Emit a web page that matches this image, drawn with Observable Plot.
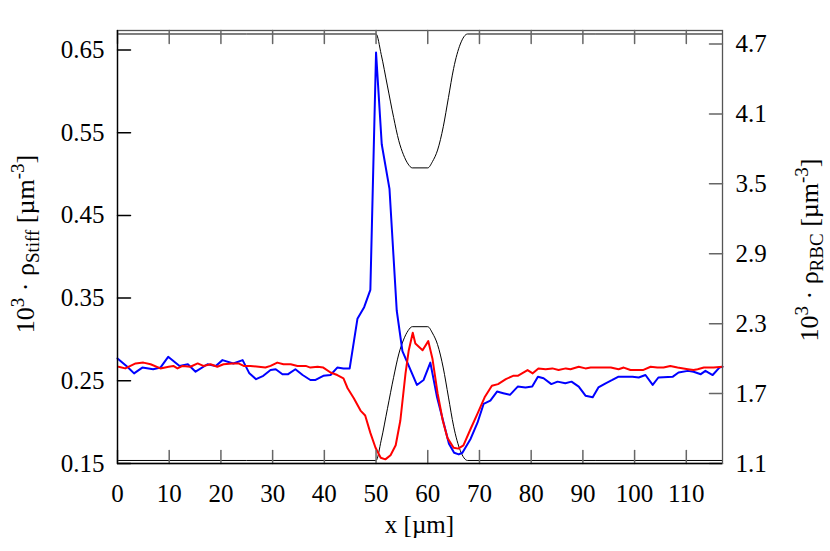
<!DOCTYPE html>
<html><head><meta charset="utf-8">
<script src="https://cdn.jsdelivr.net/npm/d3@7"></script>
<script src="https://cdn.jsdelivr.net/npm/@observablehq/plot@0.6"></script>
<style>
body{margin:0;background:#fff}
#chart svg{font-family:"Liberation Serif","Times New Roman",serif}
</style>
</head><body><div id="chart"></div>
<script>
// ---- data (left-axis units for blue/red; right-axis units for black wall curves) ----
const blueX = [0,1.9,3.2,4.8,6.9,8.3,9.8,12.0,13.6,15.1,17.4,19.0,20.3,22.4,24.2,25.5,26.8,28.2,29.6,30.6,31.9,33.0,34.4,35.8,37.3,38.3,39.8,41.2,42.5,43.7,44.9,46.4,47.7,48.9,50.0,51.1,52.6,54.0,55.1,56.0,57.9,59.2,60.5,61.8,64.1,65.1,66.0,66.7,68.3,69.6,70.8,72.1,73.4,74.6,75.9,77.4,78.9,80.2,81.3,82.4,83.9,85.1,86.6,87.8,89.2,90.5,91.9,93.0,94.4,95.7,96.9,99.6,100.8,102.1,103.5,104.6,107.4,108.5,110.3,111.4,112.8,113.7,115.1,116.4,117.0];
const blueY = [0.277,0.267,0.259,0.266,0.264,0.266,0.279,0.268,0.270,0.261,0.270,0.268,0.275,0.271,0.275,0.259,0.252,0.256,0.263,0.264,0.258,0.258,0.264,0.257,0.251,0.251,0.256,0.257,0.266,0.265,0.265,0.325,0.339,0.360,0.647,0.536,0.482,0.335,0.286,0.273,0.245,0.251,0.272,0.230,0.174,0.163,0.161,0.163,0.180,0.199,0.222,0.226,0.237,0.235,0.233,0.243,0.242,0.243,0.255,0.253,0.246,0.249,0.247,0.249,0.243,0.232,0.230,0.242,0.247,0.251,0.255,0.255,0.254,0.257,0.245,0.254,0.255,0.260,0.262,0.261,0.258,0.262,0.257,0.266,0.267];

const redX = [0.2,1.5,3.5,5.0,6.4,8.3,9.9,10.8,11.6,12.6,14.1,15.5,16.6,18.0,19.3,20.5,22.2,23.4,24.4,25.7,27.3,28.6,29.6,30.9,32.1,33.5,34.8,36.4,37.3,38.7,39.8,41.2,42.5,43.7,44.5,45.7,47.0,47.9,48.9,49.9,50.9,51.8,52.8,53.8,54.7,55.7,56.3,57.1,57.6,59.0,60.1,60.9,61.9,62.9,63.8,65.0,65.9,66.9,68.3,69.6,71.0,72.4,73.6,75.1,76.5,77.4,79.3,80.3,81.4,82.8,84.1,85.3,86.7,87.6,89.2,90.5,91.5,92.8,94.4,95.4,96.9,97.9,99.2,101.6,103.1,104.4,105.6,106.9,108.3,110.3,111.4,112.2,113.4,115.3,117.0];
const redY = [0.267,0.265,0.271,0.272,0.270,0.265,0.267,0.268,0.265,0.268,0.267,0.271,0.268,0.270,0.267,0.270,0.271,0.271,0.268,0.268,0.267,0.266,0.268,0.272,0.270,0.270,0.268,0.268,0.266,0.267,0.266,0.260,0.257,0.253,0.241,0.229,0.214,0.208,0.187,0.169,0.157,0.155,0.160,0.172,0.202,0.259,0.286,0.308,0.295,0.287,0.298,0.277,0.235,0.202,0.181,0.169,0.168,0.172,0.192,0.210,0.230,0.244,0.246,0.252,0.256,0.256,0.263,0.259,0.265,0.264,0.265,0.263,0.265,0.264,0.267,0.265,0.266,0.266,0.266,0.266,0.264,0.266,0.263,0.263,0.267,0.266,0.266,0.268,0.266,0.264,0.263,0.264,0.266,0.266,0.267];

const wallX      = [0,50.0,51.0,52.2,53.4,54.4,55.3,56.2,57.0,60.0,60.9,61.9,63.0,64.0,65.0,66.3,67.7,117];
const wallTop    = [4.786,4.786,4.61,4.34,4.07,3.87,3.75,3.67,3.637,3.637,3.69,3.79,3.99,4.24,4.49,4.70,4.786,4.786];
const wallBottom = [1.126,1.126,1.30,1.57,1.84,2.04,2.16,2.24,2.274,2.274,2.22,2.12,1.92,1.67,1.42,1.21,1.126,1.126];

const xTicks = [0,10,20,30,40,50,60,70,80,90,100,110];
const leftTicks = [0.15,0.25,0.35,0.45,0.55,0.65];
const rightTicks = [1.1,1.7,2.3,2.9,3.5,4.1,4.7];

const xDomain = [0, 117];
const leftDomain = [0.15, 0.6736];
const rightDomain = [1.1, 4.816];

// ---- build ----
const toLeft = v => leftDomain[0] + (v - rightDomain[0]) * (leftDomain[1] - leftDomain[0]) / (rightDomain[1] - rightDomain[0]);
const blue = blueX.map((x, i) => ({x, y: blueY[i]}));
const red = redX.map((x, i) => ({x, y: redY[i]}));
const wall = wallX.map((x, i) => ({x, top: toLeft(wallTop[i]), bottom: toLeft(wallBottom[i])}));
const tickShape = {draw(context, l) { context.moveTo(0, 0); context.lineTo(0, -l); }};
const rightLabel = d => { const t = rightTicks.find(t => Math.abs(toLeft(t) - d) < 1e-9); return t.toFixed(1); };

const chart = Plot.plot({
  width: 830, height: 551,
  marginLeft: 117, marginRight: 108, marginTop: 30, marginBottom: 88,
  style: {fontFamily: '"Liberation Serif","Times New Roman",serif', fontSize: "25px", background: "white", color: "black"},
  x: {domain: xDomain},
  y: {domain: leftDomain},
  marks: [
    Plot.line(wall, {x: "x", y: "top", stroke: "black", strokeWidth: 1, curve: "monotone-x"}),
    Plot.line(wall, {x: "x", y: "bottom", stroke: "black", strokeWidth: 1, curve: "monotone-x"}),
    Plot.line(blue, {x: "x", y: "y", stroke: "#0000ff", strokeWidth: 2}),
    Plot.line(red, {x: "x", y: "y", stroke: "#ff0000", strokeWidth: 2}),
    Plot.frame({stroke: "#555", strokeWidth: 1.3}),
    Plot.vector(leftTicks, {y: d => d, frameAnchor: "left", rotate: 90, length: 13, anchor: "start", shape: tickShape, stroke: "black"}),
    Plot.vector(rightTicks.map(toLeft), {y: d => d, frameAnchor: "right", rotate: 270, length: 13, anchor: "start", shape: tickShape, stroke: "#666"}),
    Plot.vector(xTicks, {x: d => d, frameAnchor: "bottom", rotate: 0, length: 13, anchor: "start", shape: tickShape, stroke: "#666"}),
    Plot.vector(xTicks, {x: d => d, frameAnchor: "top", rotate: 180, length: 13, anchor: "start", shape: tickShape, stroke: "#666"}),
    Plot.axisX({ticks: xTicks, tickSize: 0, tickPadding: 21, tickFormat: d => String(d), label: null}),
    Plot.axisY({anchor: "left", ticks: leftTicks, tickSize: 0, tickPadding: 13, tickFormat: d => d.toFixed(2), label: null}),
    Plot.axisY({anchor: "right", ticks: rightTicks.map(toLeft), tickSize: 0, tickPadding: 13, tickFormat: rightLabel, label: null}),
    Plot.ruleX([0], {stroke: "black", strokeWidth: 1.3}),
    Plot.ruleY([leftDomain[0]], {stroke: "black", strokeWidth: 1.3})
  ]
});
document.getElementById("chart").appendChild(chart);

// ---- axis titles with sub/superscripts ----
const svg = d3.select(chart);
function title(x, y, sub, size) {
  const s = Math.round(size * 0.72);
  const t = svg.append("text")
    .attr("transform", `translate(${x},${y}) rotate(-90)`)
    .attr("text-anchor", "middle")
    .attr("font-size", size)
    .attr("fill", "black");
  t.append("tspan").text("10");
  t.append("tspan").attr("font-size", s).attr("dy", -size * 0.4).text("3");
  t.append("tspan").attr("dy", size * 0.4).text(" \u00B7 \u03C1");
  t.append("tspan").attr("font-size", s).attr("dy", size * 0.2).text(sub);
  t.append("tspan").attr("dy", -size * 0.2).text(" [\u00B5m");
  t.append("tspan").attr("font-size", s).attr("dy", -size * 0.4).text("-3");
  t.append("tspan").attr("dy", size * 0.4).text("]");
}
title(34, 244, "Stiff", 26);
title(818, 250, "RBC", 26);
svg.append("text").attr("x", 419.5).attr("y", 533).attr("text-anchor", "middle")
  .attr("font-size", 25).attr("fill", "black").text("x [\u00B5m]");
</script>
</body></html>
